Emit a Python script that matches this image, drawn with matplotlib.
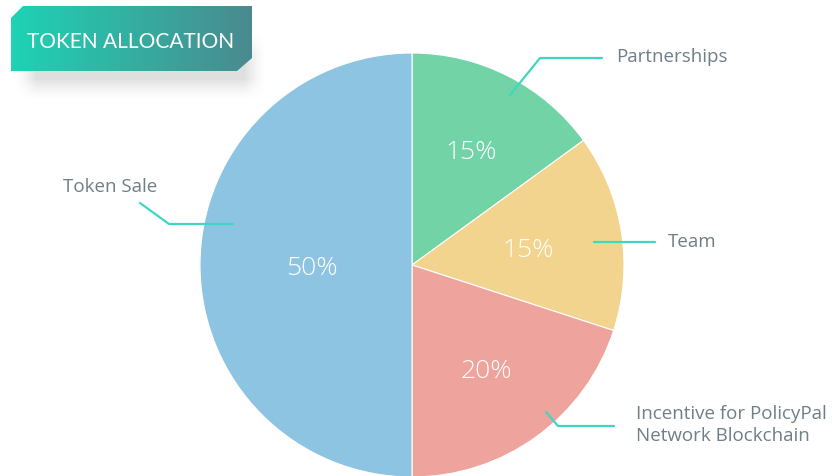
import numpy as np
import matplotlib
matplotlib.use("Agg")
import matplotlib.pyplot as plt
from matplotlib.patches import Polygon

# data
labels = ["Partnerships", "Team", "Incentive for PolicyPal\nNetwork Blockchain", "Token Sale"]
shares = [15, 15, 20, 50]
colors = ["#72d3a7", "#f2d48e", "#eea39c", "#8cc4e2"]
pct_dist = [0.615, 0.555, 0.60, 0.47]

W, H = 832, 476
TEAL = "#3fd6c2"
GREY = "#6f7f86"


def py(y):
    # image pixel row -> data y (y up)
    return H - y


fig = plt.figure(figsize=(W / 100, H / 100), dpi=100)
ax = fig.add_axes([0, 0, 1, 1])

cx, cy, r = 412, py(265), 212
wedges, _ = ax.pie(shares, colors=colors, startangle=90, counterclock=False,
                   center=(cx, cy), radius=r, frame=True,
                   wedgeprops=dict(edgecolor="white", linewidth=0.8))
ax.set_aspect("equal")
ax.axis("off")

for w, s, d in zip(wedges, shares, pct_dist):
    a = np.deg2rad((w.theta1 + w.theta2) / 2)
    ax.text(cx + d * r * np.cos(a), cy + d * r * np.sin(a) - 4, f"{s}%",
            ha="center", va="center", color="white", fontsize=19,
            family="Open Sans", weight="light")

# leader lines and labels
leaders = {
    "Partnerships": [(510, 95), (540, 58), (602, 58)],
    "Team": [(594, 242), (655, 242)],
    "Incentive for PolicyPal\nNetwork Blockchain": [(546, 412), (558, 426), (614, 426)],
    "Token Sale": [(140, 203), (169, 224), (233, 224)],
}
label_pos = {
    "Partnerships": (616, 57),
    "Team": (668, 242),
    "Incentive for PolicyPal\nNetwork Blockchain": (636, 425),
    "Token Sale": (63, 187),
}
for name in labels:
    pts = leaders[name]
    ax.plot([p[0] for p in pts], [py(p[1]) for p in pts], color=TEAL, lw=1.6,
            solid_capstyle="round", zorder=5)
    x, y = label_pos[name]
    ax.text(x, py(y), name, ha="left", va="center", color=GREY, fontsize=13.5,
            family="Open Sans", linespacing=1.25)

# title banner shadow
sx = np.arange(0, 300)
sy = np.arange(0, 115)
X, Y = np.meshgrid(sx, sy)


def ramp(v, a, b, soft):
    return np.clip((v - a) / soft, 0, 1) ** 1.5 * np.clip((b - v) / soft, 0, 1) ** 1.5


alpha = ramp(X, 14, 266, 22) * ramp(Y, 30, 100, 22) * 0.25
shadow = np.zeros((len(sy), len(sx), 4))
shadow[..., :3] = 0.5
shadow[..., 3] = alpha
ax.imshow(shadow, extent=(0, 300, py(115), py(0)), origin="upper", zorder=6,
          interpolation="bilinear")

# banner with gradient
verts = [(11, py(18)), (23, py(6)), (252, py(6)), (252, py(58)),
         (237, py(71)), (11, py(71))]
banner = Polygon(verts, closed=True, facecolor="none", edgecolor="none", zorder=7)
ax.add_patch(banner)
grad = np.linspace(0, 1, 256)[None, :]
c0 = np.array(matplotlib.colors.to_rgb("#1ed3b4"))
c1 = np.array(matplotlib.colors.to_rgb("#4a8a8f"))
img = c0[None, None, :] * (1 - grad[..., None]) + c1[None, None, :] * grad[..., None]
im = ax.imshow(img, extent=(11, 252, py(71), py(6)), origin="upper", zorder=7,
               aspect="auto", interpolation="bilinear")
im.set_clip_path(banner)
ax.text(131, py(42), "TOKEN ALLOCATION", ha="center", va="center", color="white",
        fontsize=15, family="Lato", zorder=8)

ax.set_xlim(0, W)
ax.set_ylim(0, H)
fig.savefig("out.png", dpi=100, facecolor="white")
